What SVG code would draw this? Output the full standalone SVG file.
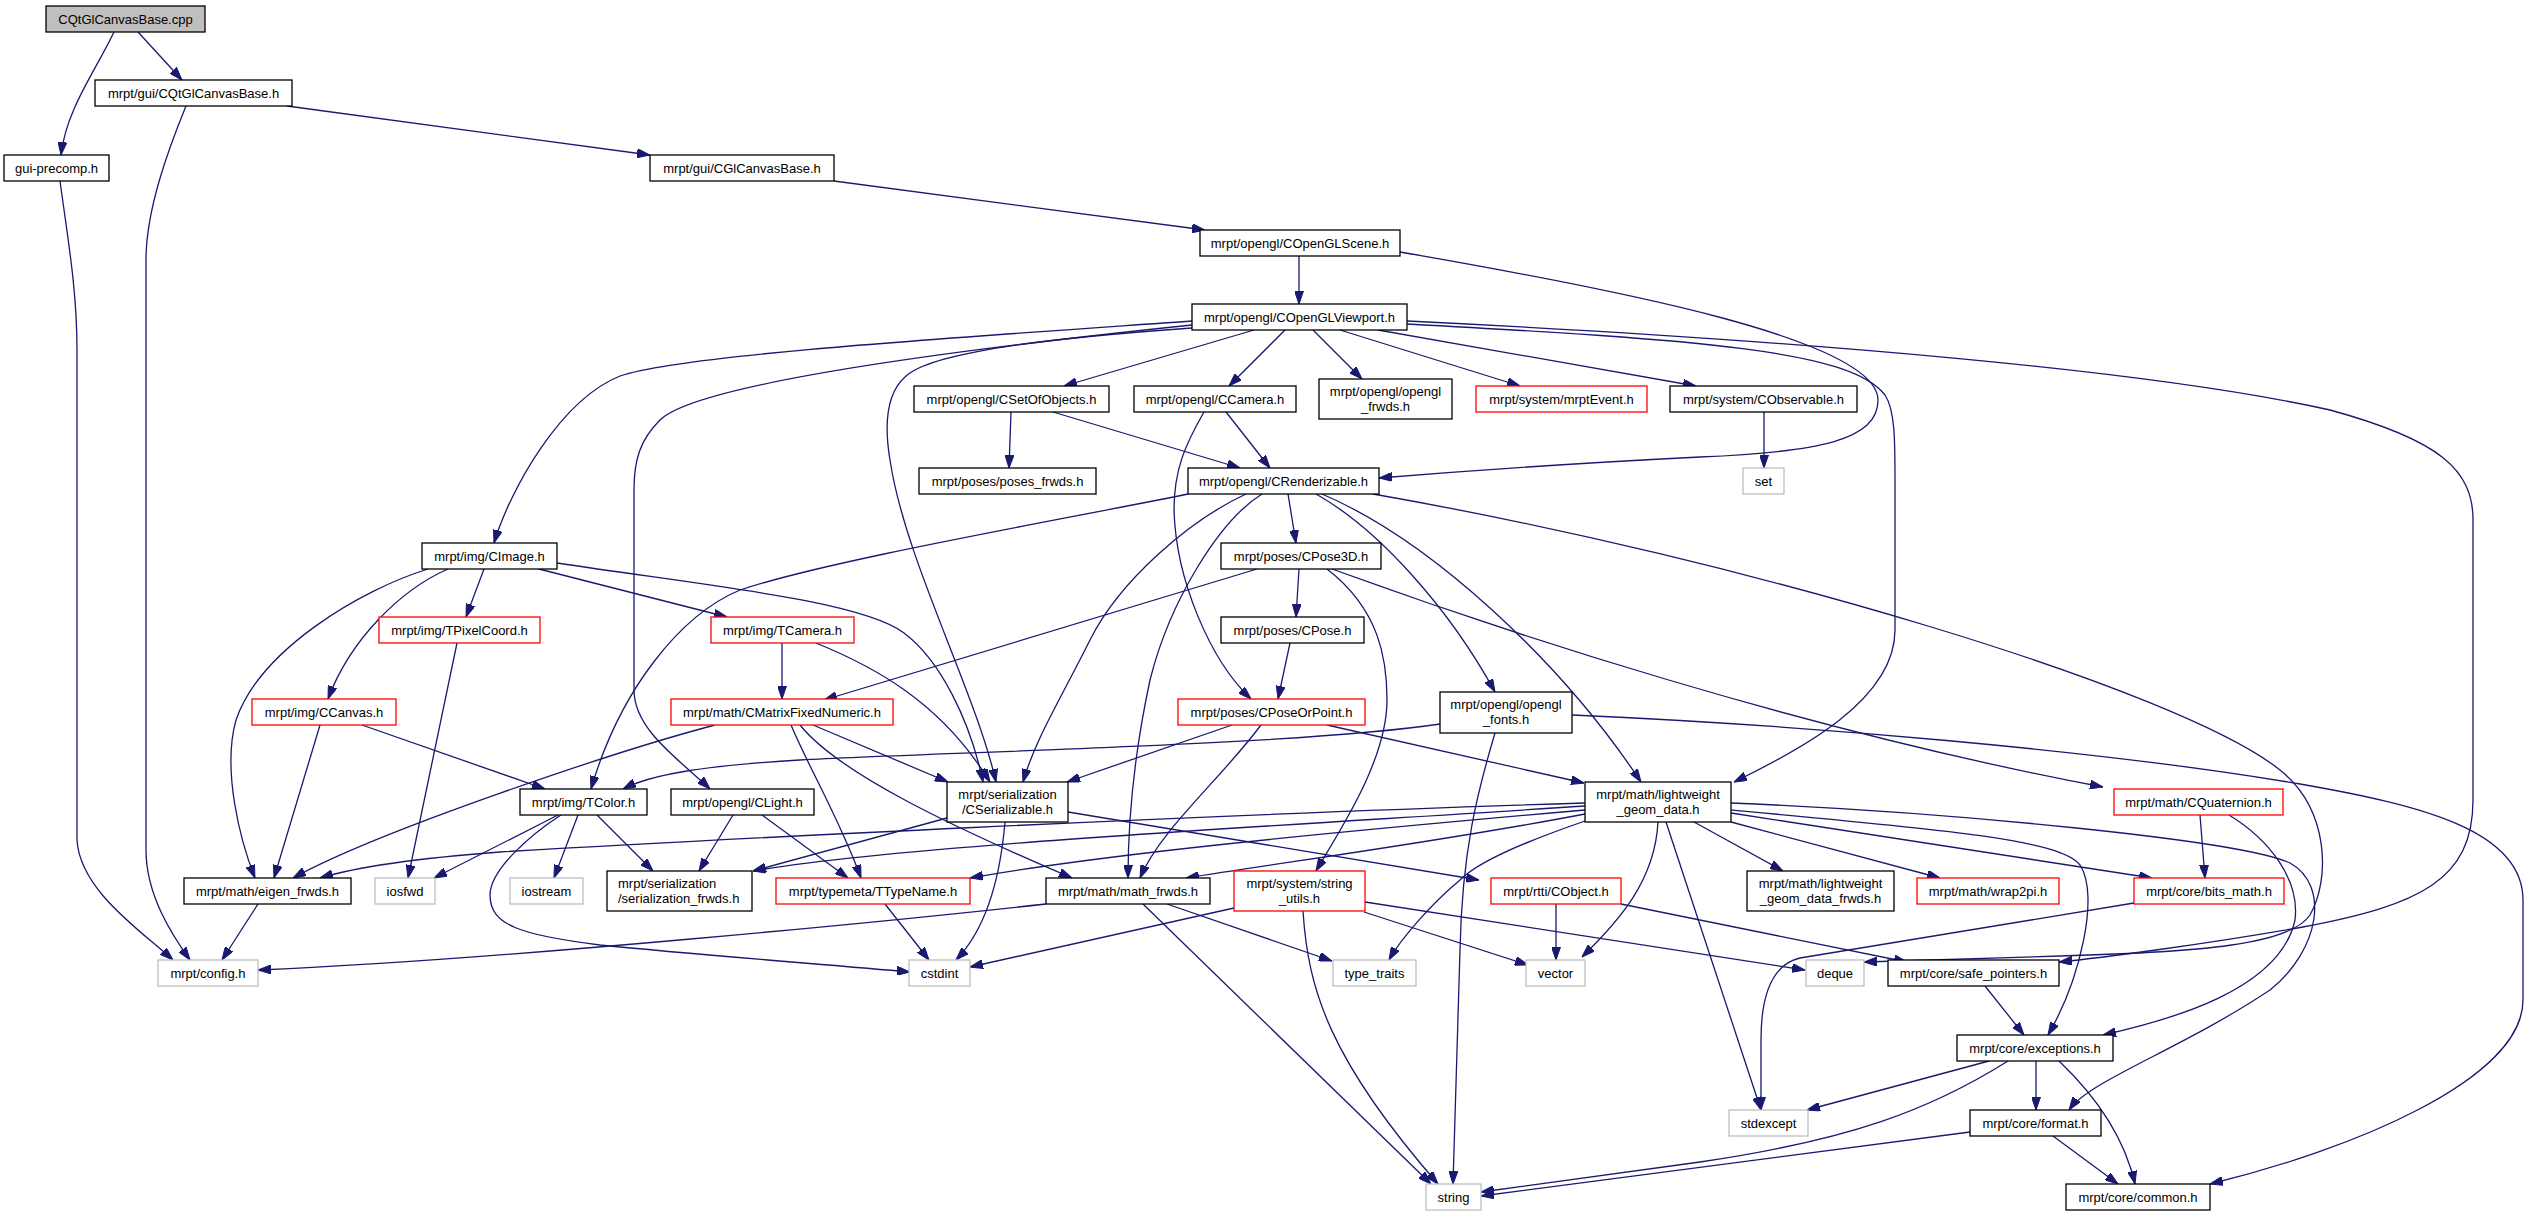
<svg xmlns="http://www.w3.org/2000/svg" width="2528" height="1216" viewBox="0 0 2528 1216">
<style>
.n rect{fill:#fff;stroke:#000;stroke-width:1.3}
.n.r rect{stroke:#ff0000}
.n.g rect{stroke:#bfbfbf}
.n.root rect{fill:#bfbfbf}
.n text{font-family:"Liberation Sans",Arial,Helvetica,sans-serif;font-size:13px;fill:#000;text-anchor:middle}
.n text.l{text-anchor:start}
.e path{fill:none;stroke:#191970;stroke-width:1.3;marker-end:url(#arr)}
</style>
<defs>
<marker id="arr" markerUnits="userSpaceOnUse" viewBox="0 0 13 9" refX="13" refY="4.5" markerWidth="13" markerHeight="9" orient="auto">
<path d="M0,0 L13,4.5 L0,9 z" fill="#191970" stroke="#191970" stroke-width="1"/>
</marker>
</defs>
<rect width="2528" height="1216" fill="#fff"/>
<g id="edges" class="e">
<path d="M114,32 C96,70 66,110 61,155"/>
<path d="M138,32 L182,80"/>
<path d="M287,106 L650,155"/>
<path d="M186,106 C168,150 146,210 146,260 L146,850 C146,895 172,935 190,960"/>
<path d="M60,181 C68,240 77,290 77,350 L77,840 C80,890 140,930 173,960"/>
<path d="M834,181 L1205,230"/>
<path d="M1299,256 L1299,304"/>
<path d="M1400,252 C1620,290 1878,340 1878,400 C1878,440 1820,452 1700,457 C1560,464 1440,473 1379,478"/>
<path d="M1254,330 L1064,386"/>
<path d="M1285,330 L1229,386"/>
<path d="M1313,330 L1362,379"/>
<path d="M1340,330 L1520,386"/>
<path d="M1378,330 L1696,386"/>
<path d="M1192,321 C950,338 680,355 620,376 C560,400 510,490 494,543"/>
<path d="M1192,325 C1000,345 700,380 660,420 C640,440 634,460 634,490 L634,690 C634,730 680,760 710,789"/>
<path d="M1192,328 C1050,338 930,352 905,377 C885,395 885,430 890,460 C905,560 975,690 996,782"/>
<path d="M1011,412 L1009,468"/>
<path d="M1053,412 L1240,468"/>
<path d="M1226,412 L1270,468"/>
<path d="M1204,412 C1185,445 1174,470 1174,510 C1176,580 1210,660 1251,699"/>
<path d="M1764,412 L1764,468"/>
<path d="M1188,494 C1050,522 830,560 740,590 C680,615 620,690 591,789"/>
<path d="M1246,494 C1190,520 1120,580 1090,640 C1060,700 1035,740 1023,782"/>
<path d="M1262,494 C1220,520 1170,600 1150,680 C1135,750 1128,820 1128,878"/>
<path d="M1288,494 L1296,543"/>
<path d="M1316,494 C1380,530 1450,610 1495,692"/>
<path d="M1322,494 C1430,540 1560,660 1641,782"/>
<path d="M1373,494 C1750,560 2180,690 2280,770 C2330,810 2330,880 2310,915 C2290,945 2200,952 2060,956 L1864,962"/>
<path d="M428,569 C360,590 260,650 236,720 C222,770 240,840 255,878"/>
<path d="M448,569 C400,590 350,640 328,699"/>
<path d="M484,569 L466,617"/>
<path d="M539,569 L727,617"/>
<path d="M557,563 C700,585 860,600 904,633 C940,660 970,720 983,782"/>
<path d="M457,643 L408,878"/>
<path d="M782,643 L782,699"/>
<path d="M816,643 C870,665 940,700 990,782"/>
<path d="M320,725 L274,878"/>
<path d="M362,725 L545,789"/>
<path d="M715,725 C620,750 380,830 293,878"/>
<path d="M791,725 C810,770 840,820 861,878"/>
<path d="M800,725 C840,775 960,830 1072,878"/>
<path d="M813,725 L948,782"/>
<path d="M1232,725 L1067,782"/>
<path d="M1261,725 C1220,780 1160,830 1140,878"/>
<path d="M1327,725 L1584,783"/>
<path d="M1440,724 C1300,745 950,752 800,760 C700,766 650,775 623,789"/>
<path d="M1495,733 C1478,790 1462,850 1460,950 L1453,1184"/>
<path d="M1572,715 C1800,725 2100,750 2300,784 C2420,805 2523,830 2523,900 L2523,1000 C2523,1080 2350,1150 2210,1184"/>
<path d="M1257,569 L824,700"/>
<path d="M1299,569 L1296,617"/>
<path d="M1327,569 C1380,610 1387,660 1387,700 C1387,760 1340,830 1316,871"/>
<path d="M1332,569 C1500,630 1800,730 2103,787"/>
<path d="M1290,643 L1278,699"/>
<path d="M558,815 L434,878"/>
<path d="M561,815 C530,835 490,870 490,895 C490,925 520,935 600,945 C700,955 820,964 910,972"/>
<path d="M578,815 L554,878"/>
<path d="M597,815 L653,871"/>
<path d="M733,815 L699,871"/>
<path d="M762,815 L848,878"/>
<path d="M947,818 L753,871"/>
<path d="M1005,822 C1000,880 985,930 956,960"/>
<path d="M1068,812 L1479,880"/>
<path d="M1585,803 C1200,815 700,840 500,852 C420,858 360,866 320,878"/>
<path d="M1585,806 C1300,825 900,845 753,871"/>
<path d="M1585,810 C1300,835 1100,855 970,878"/>
<path d="M1585,814 C1450,840 1300,860 1186,878"/>
<path d="M1585,821 C1530,840 1480,860 1460,880 C1430,905 1400,940 1389,960"/>
<path d="M1658,822 C1655,880 1620,920 1582,957"/>
<path d="M1666,822 L1761,1110"/>
<path d="M1694,822 L1783,871"/>
<path d="M1731,822 L1940,878"/>
<path d="M1731,813 L2152,878"/>
<path d="M1731,810 C1950,830 2060,840 2080,865 C2100,895 2080,980 2048,1035"/>
<path d="M1731,803 C1950,812 2240,840 2290,863 C2330,885 2320,950 2270,990 C2180,1050 2090,1080 2069,1110"/>
<path d="M1046,904 C900,920 500,960 258,970"/>
<path d="M1167,904 L1332,961"/>
<path d="M1143,904 L1431,1184"/>
<path d="M1234,908 L970,967"/>
<path d="M1303,911 C1308,990 1330,1060 1438,1184"/>
<path d="M1364,912 L1528,965"/>
<path d="M1365,902 L1805,970"/>
<path d="M885,904 L929,960"/>
<path d="M1556,904 L1556,960"/>
<path d="M1621,904 L1907,962"/>
<path d="M258,904 L222,960"/>
<path d="M1985,986 L2024,1035"/>
<path d="M1989,1061 L1807,1110"/>
<path d="M2008,1061 C1930,1110 1850,1140 1700,1162 L1481,1192"/>
<path d="M2036,1061 L2036,1110"/>
<path d="M2059,1061 C2100,1100 2125,1140 2135,1184"/>
<path d="M2053,1136 L2118,1184"/>
<path d="M1970,1132 L1481,1196"/>
<path d="M2200,815 L2205,878"/>
<path d="M2229,815 C2270,840 2300,880 2295,920 C2280,990 2170,1020 2103,1035"/>
<path d="M2134,903 L1800,958 C1770,965 1761,1000 1761,1040 L1761,1110"/>
<path d="M1407,321 C1800,340 2150,370 2330,410 C2440,440 2473,470 2473,520 L2473,800 C2473,880 2420,905 2303,927 C2200,945 2100,958 2059,962"/>
<path d="M1407,324 C1700,340 1850,350 1885,395 C1895,410 1895,440 1895,480 L1895,630 C1895,700 1800,750 1734,782"/>
</g>
<g id="root" class="n root"><rect x="46" y="6" width="159" height="26"/><text x="125.5" y="23.5">CQtGlCanvasBase.cpp</text></g>
<g id="cqtglcanvasbase_h" class="n"><rect x="95" y="80" width="197" height="26"/><text x="193.5" y="97.5">mrpt/gui/CQtGlCanvasBase.h</text></g>
<g id="gui_precomp" class="n"><rect x="4" y="155" width="105" height="26"/><text x="56.5" y="172.5">gui-precomp.h</text></g>
<g id="cglcanvasbase" class="n"><rect x="650" y="155" width="184" height="26"/><text x="742" y="172.5">mrpt/gui/CGlCanvasBase.h</text></g>
<g id="copenglscene" class="n"><rect x="1200" y="230" width="200" height="26"/><text x="1300" y="247.5">mrpt/opengl/COpenGLScene.h</text></g>
<g id="copenglviewport" class="n"><rect x="1192" y="304" width="215" height="26"/><text x="1299.5" y="321.5">mrpt/opengl/COpenGLViewport.h</text></g>
<g id="csetofobjects" class="n"><rect x="914" y="386" width="195" height="26"/><text x="1011.5" y="403.5">mrpt/opengl/CSetOfObjects.h</text></g>
<g id="ccamera" class="n"><rect x="1134" y="386" width="162" height="26"/><text x="1215" y="403.5">mrpt/opengl/CCamera.h</text></g>
<g id="opengl_frwds" class="n"><rect x="1319" y="379" width="133" height="40"/><text x="1385.5" y="395.5">mrpt/opengl/opengl</text><text x="1385.5" y="410.5">_frwds.h</text></g>
<g id="mrptevent" class="n r"><rect x="1476" y="386" width="171" height="26"/><text x="1561.5" y="403.5">mrpt/system/mrptEvent.h</text></g>
<g id="cobservable" class="n"><rect x="1670" y="386" width="187" height="26"/><text x="1763.5" y="403.5">mrpt/system/CObservable.h</text></g>
<g id="poses_frwds" class="n"><rect x="919" y="468" width="177" height="26"/><text x="1007.5" y="485.5">mrpt/poses/poses_frwds.h</text></g>
<g id="crenderizable" class="n"><rect x="1188" y="468" width="191" height="26"/><text x="1283.5" y="485.5">mrpt/opengl/CRenderizable.h</text></g>
<g id="set" class="n g"><rect x="1743" y="468" width="41" height="26"/><text x="1763.5" y="485.5">set</text></g>
<g id="cimage" class="n"><rect x="422" y="543" width="135" height="26"/><text x="489.5" y="560.5">mrpt/img/CImage.h</text></g>
<g id="cpose3d" class="n"><rect x="1221" y="543" width="160" height="26"/><text x="1301" y="560.5">mrpt/poses/CPose3D.h</text></g>
<g id="tpixelcoord" class="n r"><rect x="379" y="617" width="161" height="26"/><text x="459.5" y="634.5">mrpt/img/TPixelCoord.h</text></g>
<g id="tcamera" class="n r"><rect x="711" y="617" width="143" height="26"/><text x="782.5" y="634.5">mrpt/img/TCamera.h</text></g>
<g id="cpose" class="n"><rect x="1221" y="617" width="143" height="26"/><text x="1292.5" y="634.5">mrpt/poses/CPose.h</text></g>
<g id="ccanvas" class="n r"><rect x="252" y="699" width="144" height="26"/><text x="324" y="716.5">mrpt/img/CCanvas.h</text></g>
<g id="cmatrixfixednumeric" class="n r"><rect x="671" y="699" width="222" height="26"/><text x="782" y="716.5">mrpt/math/CMatrixFixedNumeric.h</text></g>
<g id="cposeorpoint" class="n r"><rect x="1178" y="699" width="187" height="26"/><text x="1271.5" y="716.5">mrpt/poses/CPoseOrPoint.h</text></g>
<g id="opengl_fonts" class="n"><rect x="1440" y="692" width="132" height="41"/><text x="1506" y="709">mrpt/opengl/opengl</text><text x="1506" y="724">_fonts.h</text></g>
<g id="tcolor" class="n"><rect x="520" y="789" width="127" height="26"/><text x="583.5" y="806.5">mrpt/img/TColor.h</text></g>
<g id="clight" class="n"><rect x="671" y="789" width="143" height="26"/><text x="742.5" y="806.5">mrpt/opengl/CLight.h</text></g>
<g id="cserializable" class="n"><rect x="947" y="782" width="121" height="40"/><text x="1007.5" y="798.5">mrpt/serialization</text><text x="1007.5" y="813.5">/CSerializable.h</text></g>
<g id="lightweight_geom_data" class="n"><rect x="1585" y="782" width="146" height="40"/><text x="1658" y="798.5">mrpt/math/lightweight</text><text x="1658" y="813.5">_geom_data.h</text></g>
<g id="cquaternion" class="n r"><rect x="2114" y="789" width="169" height="26"/><text x="2198.5" y="806.5">mrpt/math/CQuaternion.h</text></g>
<g id="eigen_frwds" class="n"><rect x="184" y="878" width="167" height="26"/><text x="267.5" y="895.5">mrpt/math/eigen_frwds.h</text></g>
<g id="iosfwd" class="n g"><rect x="375" y="878" width="60" height="26"/><text x="405" y="895.5">iosfwd</text></g>
<g id="iostream" class="n g"><rect x="510" y="878" width="73" height="26"/><text x="546.5" y="895.5">iostream</text></g>
<g id="serialization_frwds" class="n"><rect x="607" y="871" width="145" height="40"/><text class="l" x="618" y="887.5">mrpt/serialization</text><text class="l" x="618" y="902.5">/serialization_frwds.h</text></g>
<g id="ttypename" class="n r"><rect x="776" y="878" width="194" height="26"/><text x="873" y="895.5">mrpt/typemeta/TTypeName.h</text></g>
<g id="math_frwds" class="n"><rect x="1046" y="878" width="164" height="26"/><text x="1128" y="895.5">mrpt/math/math_frwds.h</text></g>
<g id="string_utils" class="n r"><rect x="1234" y="871" width="131" height="40"/><text x="1299.5" y="887.5">mrpt/system/string</text><text x="1299.5" y="902.5">_utils.h</text></g>
<g id="cobject" class="n r"><rect x="1491" y="878" width="130" height="26"/><text x="1556" y="895.5">mrpt/rtti/CObject.h</text></g>
<g id="lightweight_geom_data_frwds" class="n"><rect x="1747" y="871" width="147" height="40"/><text x="1820.5" y="887.5">mrpt/math/lightweight</text><text x="1820.5" y="902.5">_geom_data_frwds.h</text></g>
<g id="wrap2pi" class="n r"><rect x="1917" y="878" width="142" height="26"/><text x="1988" y="895.5">mrpt/math/wrap2pi.h</text></g>
<g id="bits_math" class="n r"><rect x="2134" y="878" width="150" height="26"/><text x="2209" y="895.5">mrpt/core/bits_math.h</text></g>
<g id="config" class="n g"><rect x="158" y="960" width="100" height="26"/><text x="208" y="977.5">mrpt/config.h</text></g>
<g id="cstdint" class="n g"><rect x="909" y="960" width="61" height="26"/><text x="939.5" y="977.5">cstdint</text></g>
<g id="type_traits" class="n g"><rect x="1333" y="960" width="83" height="26"/><text x="1374.5" y="977.5">type_traits</text></g>
<g id="vector" class="n g"><rect x="1526" y="960" width="59" height="26"/><text x="1555.5" y="977.5">vector</text></g>
<g id="deque" class="n g"><rect x="1806" y="960" width="58" height="26"/><text x="1835" y="977.5">deque</text></g>
<g id="safe_pointers" class="n"><rect x="1888" y="960" width="171" height="26"/><text x="1973.5" y="977.5">mrpt/core/safe_pointers.h</text></g>
<g id="exceptions" class="n"><rect x="1957" y="1035" width="156" height="26"/><text x="2035" y="1052.5">mrpt/core/exceptions.h</text></g>
<g id="stdexcept" class="n g"><rect x="1729" y="1110" width="79" height="26"/><text x="1768.5" y="1127.5">stdexcept</text></g>
<g id="format" class="n"><rect x="1970" y="1110" width="131" height="26"/><text x="2035.5" y="1127.5">mrpt/core/format.h</text></g>
<g id="string" class="n g"><rect x="1426" y="1184" width="55" height="26"/><text x="1453.5" y="1201.5">string</text></g>
<g id="common" class="n"><rect x="2066" y="1184" width="144" height="26"/><text x="2138" y="1201.5">mrpt/core/common.h</text></g>
</svg>
